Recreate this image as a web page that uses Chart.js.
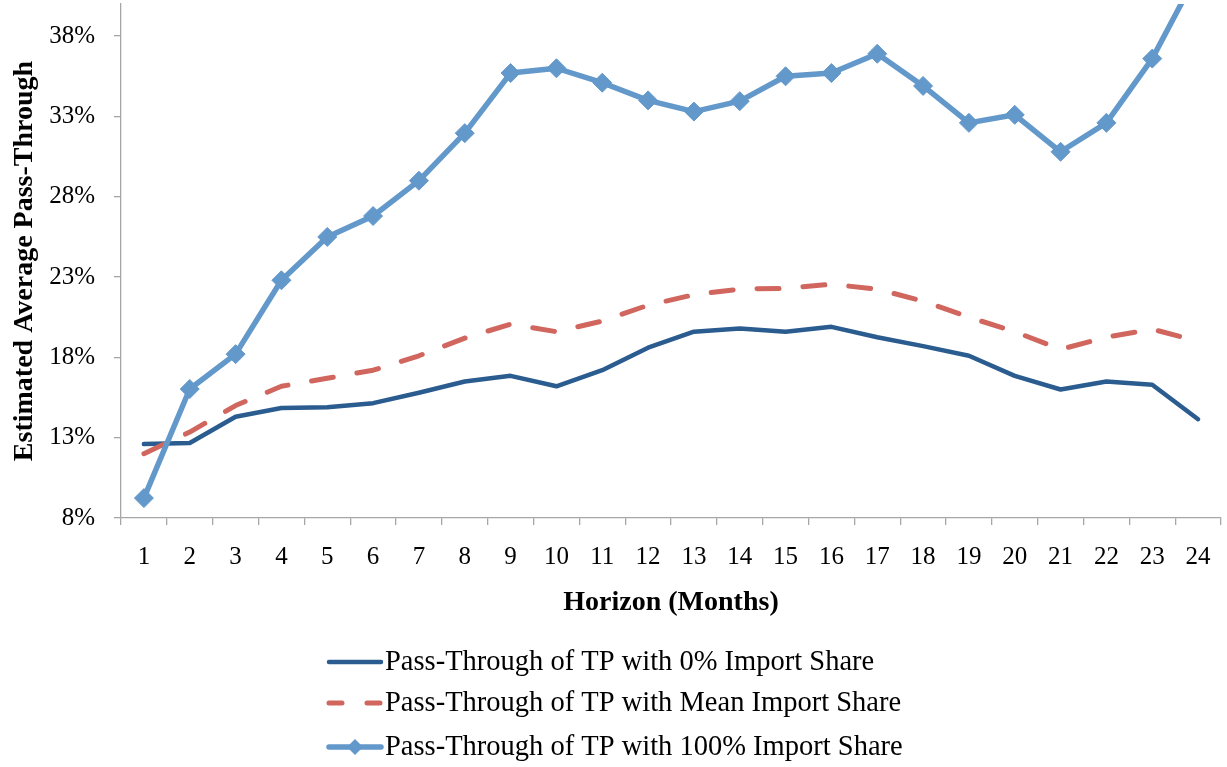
<!DOCTYPE html>
<html>
<head>
<meta charset="utf-8">
<script src="https://cdn.jsdelivr.net/npm/chart.js@4"></script>
<style>
  html, body { margin: 0; padding: 0; background: #ffffff; }
  #wrap { width: 1227px; height: 767px; position: relative; }
</style>
</head>
<body>
<div id="wrap"><canvas id="c" width="1227" height="767"></canvas></div>
<script>
// ---- data ----
const months = ['1','2','3','4','5','6','7','8','9','10','11','12','13','14','15','16','17','18','19','20','21','22','23','24'];
const zeroShare = [12.6,12.67,14.3,14.85,14.9,15.15,15.8,16.5,16.85,16.2,17.2,18.6,19.6,19.8,19.6,19.9,19.25,18.7,18.1,16.85,16.0,16.5,16.3,14.15];
const meanShare = [12.0,13.35,15.0,16.2,16.7,17.2,18.1,19.2,20.07,19.6,20.26,21.25,21.9,22.25,22.3,22.55,22.25,21.5,20.5,19.6,18.5,19.26,19.76,19.0];
const fullShare = [9.24,16.03,18.2,22.8,25.5,26.8,29.0,31.96,35.7,36.0,35.1,34.0,33.3,33.95,35.5,35.7,36.9,34.9,32.6,33.1,30.8,32.6,36.6,42.0];
const yTicks = [8,13,18,23,28,33,38];
const yMin = 8, yMax = 40;
const seriesNames = [
  'Pass-Through of TP with 0% Import Share',
  'Pass-Through of TP with Mean Import Share',
  'Pass-Through of TP with 100% Import Share'
];

const axisColor = '#a6a6a6';
const serif = "'Liberation Serif', 'Times New Roman', serif";

const legendPlugin = {
  id: 'rowLegend',
  afterDraw(chart) {
    const ctx = chart.ctx;
    const rows = [662, 703, 747];
    const x0 = 329, x1 = 381;
    chart.data.datasets.forEach((ds, i) => {
      const y = rows[i];
      ctx.save();
      ctx.strokeStyle = ds.borderColor;
      ctx.lineWidth = ds.borderWidth;
      ctx.lineCap = 'round';
      ctx.setLineDash(ds.borderDash && ds.borderDash.length ? [13, 25] : []);
      ctx.beginPath();
      ctx.moveTo(x0, y);
      ctx.lineTo(x1, y);
      ctx.stroke();
      ctx.setLineDash([]);
      if (ds.pointRadius > 0) {
        ctx.fillStyle = ds.pointBackgroundColor;
        const r = 8;
        const cx = (x0 + x1) / 2;
        ctx.beginPath();
        ctx.moveTo(cx - r, y); ctx.lineTo(cx, y - r); ctx.lineTo(cx + r, y); ctx.lineTo(cx, y + r);
        ctx.closePath();
        ctx.fill();
      }
      ctx.fillStyle = '#000000';
      ctx.font = "28.5px " + serif;
      ctx.textBaseline = 'middle';
      ctx.textAlign = 'left';
      ctx.fillText(seriesNames[i], x1 + 4, y + 1);
      ctx.restore();
    });
  }
};

new Chart(document.getElementById('c'), {
  type: 'line',
  data: {
    labels: months,
    datasets: [
      {
        label: seriesNames[0], data: zeroShare,
        borderColor: '#2b5c90', backgroundColor: '#2b5c90',
        borderWidth: 4.5, pointRadius: 0, tension: 0, order: 3,
        borderCapStyle: 'round', borderJoinStyle: 'round'
      },
      {
        label: seriesNames[1], data: meanShare,
        borderColor: '#d0665e', backgroundColor: '#d0665e',
        borderWidth: 5, pointRadius: 0, tension: 0, order: 2,
        borderDash: [22, 24], borderCapStyle: 'round', borderJoinStyle: 'round'
      },
      {
        label: seriesNames[2], data: fullShare,
        borderColor: '#6398cb', backgroundColor: '#6398cb',
        pointBackgroundColor: '#6398cb', pointBorderColor: '#6398cb',
        borderWidth: 5.5, pointRadius: 9.5, pointBorderWidth: 1,
        pointStyle: 'rectRot', tension: 0, order: 1,
        borderJoinStyle: 'round'
      }
    ]
  },
  options: {
    responsive: false,
    animation: false,
    devicePixelRatio: 1,
    layout: { autoPadding: false, padding: { left: 0, top: 4, right: 6, bottom: 139 } },
    plugins: { legend: { display: false }, tooltip: { enabled: false } },
    scales: {
      x: {
        type: 'category',
        offset: true,
        grid: { display: true, offset: true, drawOnChartArea: false, drawTicks: true, tickLength: 7, color: axisColor, lineWidth: 1.3 },
        border: { display: true, color: axisColor, width: 1.3 },
        ticks: { color: '#000000', font: { family: serif, size: 25 }, padding: 17, maxRotation: 0, autoSkip: false },
        title: { display: true, text: 'Horizon (Months)', color: '#000000', font: { family: serif, size: 28, weight: 'bold' }, padding: { top: 0, bottom: 8 } },
        afterFit(scale) { scale.height = 110; scale.paddingLeft = 0; scale.paddingRight = 0; }
      },
      y: {
        min: yMin, max: yMax,
        grid: { display: true, drawOnChartArea: false, drawTicks: true, tickLength: 7, color: axisColor, lineWidth: 1.3 },
        border: { display: true, color: axisColor, width: 1.3 },
        ticks: { color: '#000000', font: { family: serif, size: 25 }, padding: 19, callback: v => v + '%' },
        afterBuildTicks(scale) { scale.ticks = yTicks.map(v => ({ value: v })); },
        title: { display: true, text: 'Estimated Average Pass-Through', color: '#000000', font: { family: serif, size: 28, weight: 'bold' }, padding: { top: 8, bottom: 0 } },
        afterFit(scale) { scale.width = 121; scale.paddingTop = 0; scale.paddingBottom = 0; }
      }
    }
  },
  plugins: [legendPlugin]
});
</script>
</body>
</html>
